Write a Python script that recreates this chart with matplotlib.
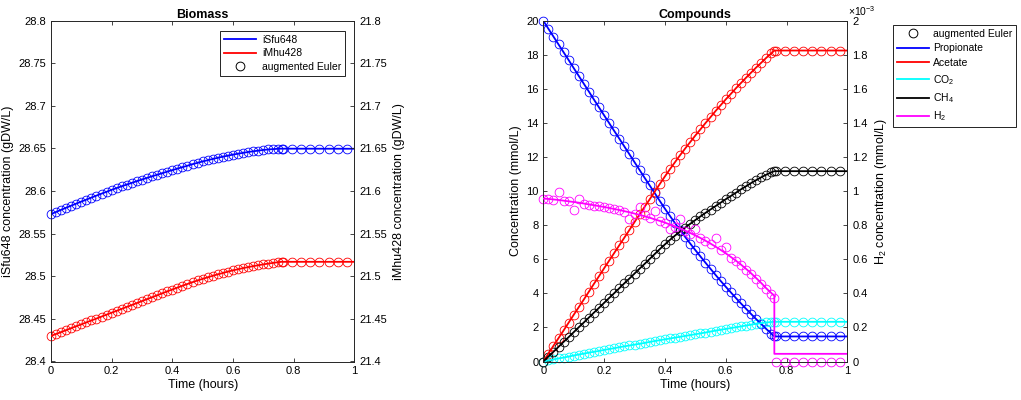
import matplotlib
matplotlib.use('Agg')
import matplotlib.pyplot as plt
from matplotlib.lines import Line2D
from matplotlib.ticker import FuncFormatter, MultipleLocator

plt.rcParams['font.family'] = ['Liberation Sans', 'DejaVu Sans']
plt.rcParams['mathtext.fontset'] = 'custom'
plt.rcParams['mathtext.rm'] = 'Liberation Sans'
plt.rcParams['mathtext.it'] = 'Liberation Sans:italic'

# ---------------- data ----------------
# Euler step times (minutes); converted to hours for plotting
time_min = [0, 1, 2, 3, 4, 5, 6, 7, 8, 9, 10, 11, 12, 13, 14, 15, 16, 17, 18, 19,
            20, 21, 22, 23, 24, 25, 26, 27, 28, 29, 30, 31, 32, 33, 34, 35, 36, 37, 38, 39,
            40, 41, 42, 43, 44, 45, 45.6]
tail_min = [45.9, 47.7, 49.5, 51.3, 53.1, 54.9, 56.7, 58.5]
end_min = 60

# Biomass (gDW/L)
isfu648 = [28.5730, 28.5755, 28.5780, 28.5805, 28.5829, 28.5853, 28.5877, 28.5900, 28.5924, 28.5947,
           28.5970, 28.5992, 28.6015, 28.6036, 28.6057, 28.6077, 28.6097, 28.6117, 28.6136, 28.6155,
           28.6174, 28.6192, 28.6210, 28.6229, 28.6246, 28.6264, 28.6281, 28.6298, 28.6316, 28.6332,
           28.6348, 28.6363, 28.6377, 28.6391, 28.6404, 28.6416, 28.6428, 28.6439, 28.6449, 28.6459,
           28.6467, 28.6475, 28.6483, 28.6489, 28.6493, 28.6497, 28.6498]
isfu648_end = 28.6497
imhu428 = [21.4300, 21.4323, 21.4345, 21.4368, 21.4391, 21.4414, 21.4436, 21.4459, 21.4482, 21.4504,
           21.4527, 21.4550, 21.4573, 21.4595, 21.4618, 21.4641, 21.4663, 21.4686, 21.4709, 21.4732,
           21.4754, 21.4777, 21.4800, 21.4823, 21.4845, 21.4867, 21.4889, 21.4910, 21.4931, 21.4951,
           21.4970, 21.4988, 21.5006, 21.5023, 21.5039, 21.5055, 21.5070, 21.5083, 21.5096, 21.5108,
           21.5119, 21.5130, 21.5140, 21.5149, 21.5158, 21.5166, 21.5170]
imhu428_end = 21.5170

# Compounds (mmol/L)
propionate = [20.0, 19.53, 19.07, 18.61, 18.15, 17.69, 17.22, 16.76, 16.30, 15.84,
              15.37, 14.91, 14.45, 13.99, 13.53, 13.08, 12.62, 12.16, 11.70, 11.24,
              10.78, 10.33, 9.88, 9.42, 8.97, 8.54, 8.12, 7.71, 7.31, 6.92,
              6.54, 6.17, 5.80, 5.44, 5.08, 4.73, 4.39, 4.06, 3.73, 3.41,
              3.10, 2.79, 2.49, 2.20, 1.91, 1.64, 1.47]
propionate_end = 1.47
acetate = [0.0, 0.46, 0.92, 1.37, 1.82, 2.28, 2.74, 3.19, 3.64, 4.10,
           4.56, 5.01, 5.47, 5.92, 6.37, 6.82, 7.27, 7.72, 8.18, 8.63,
           9.08, 9.52, 9.97, 10.42, 10.86, 11.29, 11.70, 12.11, 12.50, 12.88,
           13.26, 13.62, 13.99, 14.34, 14.70, 15.04, 15.38, 15.70, 16.03, 16.34,
           16.65, 16.95, 17.25, 17.53, 17.82, 18.08, 18.25]
acetate_end = 18.25
co2 = [0.0, 0.06, 0.12, 0.18, 0.23, 0.29, 0.35, 0.41, 0.46, 0.52,
       0.57, 0.62, 0.68, 0.73, 0.78, 0.84, 0.89, 0.94, 0.99, 1.04,
       1.09, 1.15, 1.20, 1.25, 1.30, 1.35, 1.40, 1.45, 1.50, 1.55,
       1.60, 1.65, 1.70, 1.76, 1.81, 1.86, 1.91, 1.96, 2.01, 2.06,
       2.11, 2.16, 2.21, 2.25, 2.29, 2.32, 2.33]
co2_end = 2.33
ch4 = [0.0, 0.29, 0.57, 0.86, 1.15, 1.43, 1.72, 2.01, 2.29, 2.58,
       2.87, 3.15, 3.44, 3.73, 4.01, 4.30, 4.59, 4.87, 5.16, 5.45,
       5.73, 6.02, 6.31, 6.60, 6.87, 7.14, 7.39, 7.63, 7.86, 8.08,
       8.30, 8.51, 8.72, 8.92, 9.12, 9.32, 9.52, 9.71, 9.90, 10.10,
       10.28, 10.47, 10.64, 10.81, 10.96, 11.10, 11.17]
ch4_end = 11.17
# H2 in units of 1e-3 mmol/L
h2_line = [0.956, 0.954, 0.951, 0.948, 0.944, 0.940, 0.936, 0.932, 0.927, 0.922,
           0.917, 0.912, 0.907, 0.901, 0.895, 0.889, 0.882, 0.876, 0.868, 0.861,
           0.852, 0.844, 0.834, 0.825, 0.815, 0.804, 0.793, 0.781, 0.768, 0.754,
           0.740, 0.725, 0.709, 0.692, 0.674, 0.655, 0.635, 0.614, 0.592, 0.569,
           0.544, 0.518, 0.490, 0.461, 0.430, 0.402, 0.385]
h2_line_end = 0.045
h2_euler = [0.952, 0.951, 0.949, 0.994, 0.943, 0.940, 0.888, 0.953, 0.925, 0.920,
            0.915, 0.910, 0.905, 0.899, 0.893, 0.887, 0.880, 0.839, 0.866, 0.908,
            0.859, 0.842, 0.884, 0.823, 0.813, 0.775, 0.790, 0.834, 0.765, 0.751,
            0.775, 0.722, 0.706, 0.689, 0.722, 0.652, 0.670, 0.610, 0.588, 0.564,
            0.539, 0.512, 0.484, 0.455, 0.424, 0.395, 0.372]
h2_euler_end = 0.0

# ---------------- style ----------------
AXC = '#262626'
LW = 1.3
MS = 6.3
MEW = 0.6
TICK_FS = 8
LAB_FS = 9
LEG_FS = 7.5

t_h = [m / 60 for m in time_min]
tail_h = [m / 60 for m in tail_min]
end_h = end_min / 60

fig = plt.figure(figsize=(10.21, 4.0), dpi=100)
bottom = 1 - 361.5 / 400
height = 340.8 / 400
ax1 = fig.add_axes([51 / 1021, bottom, 303.3 / 1021, height])
ax2 = ax1.twinx()
ax3 = fig.add_axes([543.3 / 1021, bottom, 304 / 1021, height])
ax4 = ax3.twinx()

gfmt = FuncFormatter(lambda v, p: '%g' % round(v, 6))


def style(axl, axr):
    for a in (axl, axr):
        for s in a.spines.values():
            s.set_color(AXC)
            s.set_linewidth(0.6)
        a.tick_params(direction='in', length=3, width=0.6, colors=AXC,
                      labelsize=TICK_FS, labelcolor='black')
    axl.tick_params(top=True, right=False)
    axr.tick_params(left=False, right=True)
    axl.set_xlim(0, 1)
    axl.xaxis.set_major_locator(MultipleLocator(0.2))
    axl.xaxis.set_major_formatter(gfmt)
    axl.set_xlabel('Time (hours)', fontsize=LAB_FS, labelpad=2)
    axl.yaxis.set_major_formatter(gfmt)
    axr.yaxis.set_major_formatter(gfmt)


def series(ax, vals, end, color, line=True):
    if line:
        ax.plot(t_h + [end_h], vals + [end], '-', color=color, lw=LW, zorder=3)
    ax.plot(t_h + tail_h, vals + [end] * len(tail_h), 'o', mfc='none', mec=color,
            ms=MS, mew=MEW, clip_on=False, zorder=2)


# ---------------- Biomass ----------------
style(ax1, ax2)
series(ax1, isfu648, isfu648_end, 'blue')
series(ax2, imhu428, imhu428_end, 'red')
ax1.set_ylim(28.4, 28.8)
ax2.set_ylim(21.4, 21.8)
ax1.yaxis.set_major_locator(MultipleLocator(0.05))
ax2.yaxis.set_major_locator(MultipleLocator(0.05))
ax1.set_ylabel('iSfu648 concentration (gDW/L)', fontsize=LAB_FS, labelpad=3)
ax2.set_ylabel('iMhu428 concentration (gDW/L)', fontsize=LAB_FS, labelpad=4)
ax1.set_title('Biomass', fontsize=9, fontweight='bold', pad=2)

h_euler = Line2D([], [], ls='none', marker='o', mfc='none', mec='black', ms=MS, mew=0.7)
leg1 = ax2.legend([Line2D([], [], color='blue', lw=LW), Line2D([], [], color='red', lw=LW), h_euler],
                  ['iSfu648', 'iMhu428', 'augmented Euler'],
                  loc='upper right', bbox_to_anchor=(0.97, 0.97), borderaxespad=0,
                  fontsize=LEG_FS, handlelength=3.1, labelspacing=0.35, fancybox=False,
                  framealpha=1, edgecolor='black', borderpad=0.35, handletextpad=0.6)
leg1.get_frame().set_linewidth(0.6)

# ---------------- Compounds ----------------
style(ax3, ax4)
series(ax3, propionate, propionate_end, 'blue')
series(ax3, acetate, acetate_end, 'red')
series(ax3, co2, co2_end, 'cyan')
series(ax3, ch4, ch4_end, 'black')
ax4.plot(t_h + [t_h[-1], end_h], h2_line + [h2_line_end, h2_line_end], '-',
         color='magenta', lw=LW, zorder=3)
series(ax4, h2_euler, h2_euler_end, 'magenta', line=False)
ax3.set_ylim(0, 20)
ax4.set_ylim(0, 2)
ax3.yaxis.set_major_locator(MultipleLocator(2))
ax4.yaxis.set_major_locator(MultipleLocator(0.2))
ax3.set_ylabel('Concentration (mmol/L)', fontsize=LAB_FS, labelpad=3)
ax4.set_ylabel('H$_2$ concentration (mmol/L)', fontsize=LAB_FS, labelpad=4)
ax3.set_title('Compounds', fontsize=9, fontweight='bold', pad=2)
ax4.text(1.003, 1.008, r'$\times$10$^{-3}$', transform=ax4.transAxes, ha='left', va='bottom',
         fontsize=7.5)

handles = [h_euler] + [Line2D([], [], color=c, lw=LW) for c in ['blue', 'red', 'cyan', 'black', 'magenta']]
labels = ['augmented Euler', 'Propionate', 'Acetate', 'CO$_2$', 'CH$_4$', 'H$_2$']
leg2 = ax4.legend(handles, labels, loc='upper left', bbox_to_anchor=(893 / 1021, 1 - 25 / 400),
                  bbox_transform=fig.transFigure, borderaxespad=0, fontsize=LEG_FS,
                  handlelength=3.1, labelspacing=0.45, fancybox=False, framealpha=1,
                  edgecolor='black', borderpad=0.35, handletextpad=0.4)
leg2.get_frame().set_linewidth(0.6)

fig.savefig('out.png', dpi=100)
